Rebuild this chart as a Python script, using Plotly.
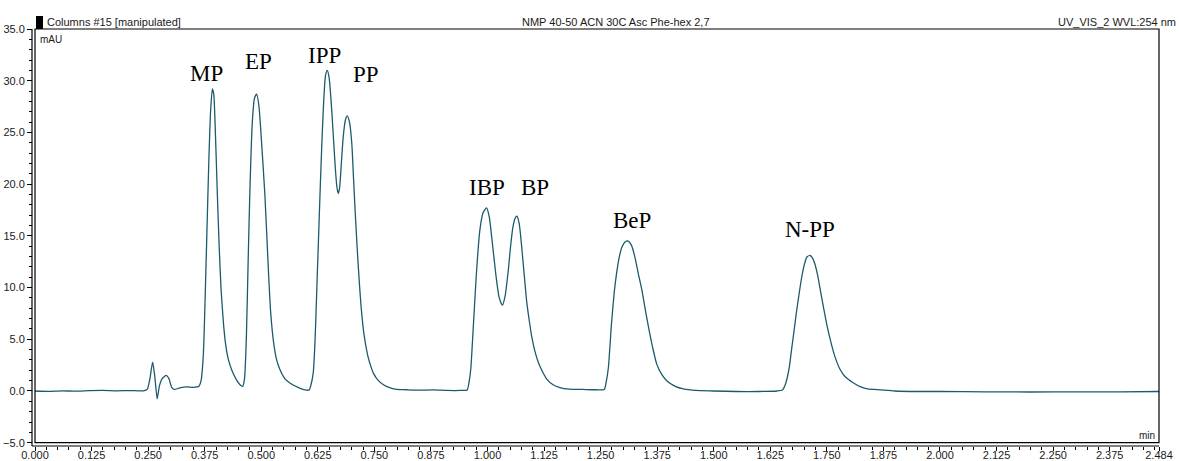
import plotly.graph_objects as go

# ---------------- data ----------------
time_min = [
    0.000, 0.030, 0.060, 0.090, 0.120, 0.150, 0.180, 0.210, 0.240,
    0.248, 0.254, 0.260, 0.265, 0.270, 0.275, 0.281, 0.290, 0.296, 0.302, 0.308,
    0.320, 0.335, 0.350, 0.362,
    0.367, 0.372, 0.376, 0.380, 0.384, 0.388, 0.392, 0.395, 0.399, 0.403, 0.407,
    0.411, 0.416, 0.421, 0.427, 0.435, 0.445, 0.453, 0.459,
    0.463, 0.467, 0.471, 0.475, 0.480, 0.485, 0.490, 0.495, 0.500, 0.508, 0.516,
    0.521, 0.527, 0.534, 0.541, 0.552, 0.564, 0.586, 0.600, 0.606,
    0.610, 0.615, 0.619, 0.6225, 0.626, 0.630, 0.634, 0.638, 0.642, 0.646, 0.650,
    0.656, 0.663, 0.667, 0.670, 0.673, 0.677, 0.681, 0.686, 0.690, 0.695, 0.700,
    0.704, 0.708, 0.712, 0.716, 0.721, 0.727, 0.735, 0.742, 0.748, 0.758, 0.770,
    0.785, 0.800,
    0.820, 0.850, 0.880, 0.910, 0.940, 0.955,
    0.959, 0.963, 0.969, 0.976, 0.983, 0.990, 0.998, 1.004, 1.009, 1.015, 1.020,
    1.026, 1.033, 1.039, 1.046, 1.051, 1.056, 1.061, 1.065, 1.070, 1.075, 1.081,
    1.087, 1.093, 1.098, 1.105, 1.112, 1.120, 1.131, 1.145, 1.160, 1.180, 1.210,
    1.240, 1.258,
    1.262, 1.267, 1.274, 1.280, 1.285, 1.291, 1.297, 1.304, 1.311, 1.318, 1.326,
    1.333, 1.341, 1.349, 1.357, 1.365, 1.374, 1.385, 1.396, 1.415, 1.433, 1.460,
    1.500, 1.550, 1.600, 1.640, 1.652,
    1.658, 1.663, 1.667, 1.672, 1.678, 1.683, 1.689, 1.694, 1.700, 1.706, 1.713,
    1.719, 1.724, 1.730, 1.735, 1.742, 1.750, 1.759, 1.768, 1.779, 1.790, 1.808,
    1.825, 1.840, 1.870, 1.900,
    1.950, 2.000, 2.100, 2.200, 2.300, 2.400, 2.484,
]
signal_mau = [
    0.00, -0.03, 0.02, -0.02, 0.03, 0.05, 0.02, 0.04, 0.02,
    0.15, 1.20, 2.80, 1.30, -0.75, 0.50, 1.20, 1.50, 1.20, 0.35, 0.15,
    0.30, 0.40, 0.35, 0.45,
    1.00, 3.50, 9.00, 15.5, 22.0, 27.0, 29.2, 28.7, 24.5, 19.0, 14.0,
    10.0, 6.80, 4.60, 3.10, 2.00, 1.10, 0.60, 0.45,
    1.20, 5.00, 12.5, 19.5, 25.8, 28.3, 28.7, 27.5, 24.5, 19.0, 11.5,
    7.50, 4.80, 3.00, 2.10, 1.20, 0.75, 0.26, 0.08, 0.10,
    0.60, 1.80, 5.00, 9.50, 14.0, 19.2, 24.0, 28.0, 30.5, 31.0, 30.3,
    27.0, 22.0, 19.8, 19.1, 19.6, 22.0, 24.5, 26.2, 26.6, 26.0, 24.0,
    20.5, 17.0, 13.8, 11.0, 8.00, 5.50, 3.50, 2.40, 1.70, 1.05, 0.60,
    0.30, 0.15,
    0.12, 0.08, 0.10, 0.05, 0.05, 0.10,
    0.80, 2.10, 6.50, 11.7, 15.5, 17.2, 17.7, 16.8, 15.0, 12.6, 10.7,
    9.00, 8.30, 9.20, 11.7, 14.0, 15.8, 16.7, 16.9, 16.2, 14.2, 11.3,
    8.50, 6.60, 5.20, 3.80, 2.80, 2.00, 1.15, 0.60, 0.33, 0.18, 0.15,
    0.12, 0.15,
    0.80, 2.20, 6.50, 9.50, 11.3, 12.9, 13.9, 14.4, 14.5, 14.1, 12.9,
    11.4, 9.80, 7.80, 5.90, 4.20, 2.60, 1.60, 1.00, 0.45, 0.20, 0.05,
    0.00, -0.05, -0.05, 0.00, 0.10,
    0.60, 1.40, 2.30, 4.00, 6.00, 7.70, 9.50, 10.9, 12.2, 12.95, 13.1,
    12.8, 12.2, 11.1, 9.90, 8.20, 6.40, 4.70, 3.30, 2.10, 1.40, 0.80,
    0.40, 0.20, 0.10, 0.00,
    -0.05, -0.05, -0.08, -0.10, -0.08, -0.08, -0.05,
]

peak_names = ["MP", "EP", "IPP", "PP", "IBP", "BP", "BeP", "N-PP"]
peak_label_time = [0.380, 0.495, 0.639, 0.731, 0.999, 1.104, 1.319, 1.713]
peak_label_mau = [30.7, 31.85, 32.4, 30.6, 19.7, 19.7, 16.5, 15.6]

x_tick_vals = [0.000, 0.125, 0.250, 0.375, 0.500, 0.625, 0.750, 0.875, 1.000,
               1.125, 1.250, 1.375, 1.500, 1.625, 1.750, 1.875, 2.000, 2.125,
               2.250, 2.375, 2.484]
x_tick_text = ["%.3f" % v for v in x_tick_vals]

header_left = "Columns #15 [manipulated]"
header_mid = "NMP 40-50 ACN 30C Asc Phe-hex 2,7"
header_right = "UV_VIS_2 WVL:254 nm"

# ---------------- layout geometry (pixels) ----------------
W, H = 1179, 461
PL, PR, PT, PB = 32, 1159, 29, 446        # paper box (axis lines)
FL, FB = 35, 442.7                         # frame left / bottom


def fx(px):
    return (px - PL) / (PR - PL)


def fy(py):
    return (PB - py) / (PB - PT)


SANS = "Liberation Sans, Arial, sans-serif"
SERIF = "Liberation Serif, Times New Roman, serif"
INK = "#1a1a1a"

fig = go.Figure()
fig.add_trace(go.Scatter(
    x=time_min, y=signal_mau, mode="lines",
    line=dict(color="#1d5a6c", width=1.3, shape="spline", smoothing=0.6),
    hoverinfo="x+y", showlegend=False,
))

annotations = []
for name, t, v in zip(peak_names, peak_label_time, peak_label_mau):
    annotations.append(dict(x=t, y=v, xref="x", yref="y", text=name,
                            showarrow=False, xanchor="center", yanchor="middle",
                            font=dict(family=SERIF, size=23, color="black")))

annotations += [
    dict(x=fx(45), y=fy(21.7), xref="paper", yref="paper", text=header_left,
         showarrow=False, xanchor="left", yanchor="middle",
         font=dict(family=SANS, size=11, color=INK)),
    dict(x=fx(616), y=fy(21.7), xref="paper", yref="paper", text=header_mid,
         showarrow=False, xanchor="center", yanchor="middle",
         font=dict(family=SANS, size=11, color=INK)),
    dict(x=fx(1178), y=fy(21.7), xref="paper", yref="paper", text=header_right,
         showarrow=False, xanchor="right", yanchor="middle",
         font=dict(family=SANS, size=11, color=INK)),
    dict(x=fx(38), y=fy(39.5), xref="paper", yref="paper", text="mAU",
         showarrow=False, xanchor="left", yanchor="middle",
         font=dict(family=SANS, size=10, color=INK)),
    dict(x=fx(1157), y=fy(435), xref="paper", yref="paper", text="min",
         showarrow=False, xanchor="right", yanchor="middle",
         font=dict(family=SANS, size=10, color=INK)),
]

shapes = [
    # plot frame
    dict(type="rect", xref="x domain", yref="y domain", x0=0, x1=1, y0=0, y1=1,
         line=dict(color="black", width=1.2)),
    # axis lines (offset from frame)
    dict(type="line", xref="paper", yref="paper", x0=0, x1=0, y0=0, y1=1,
         line=dict(color="black", width=1.2)),
    dict(type="line", xref="paper", yref="paper", x0=0, x1=1, y0=0, y1=0,
         line=dict(color="black", width=1.2)),
    # small black marker above frame
    dict(type="rect", xref="paper", yref="paper", x0=fx(36), x1=fx(43),
         y0=fy(29), y1=fy(16), line=dict(width=0), fillcolor="black"),
]

fig.update_layout(
    width=W, height=H,
    margin=dict(l=PL, r=W - PR, t=PT, b=H - PB, autoexpand=False),
    paper_bgcolor="white", plot_bgcolor="white",
    font=dict(family=SANS, size=11, color=INK),
    annotations=annotations, shapes=shapes,
    xaxis=dict(
        domain=[fx(FL), 1], range=[0, 2.484], anchor="free", position=0,
        tickmode="array", tickvals=x_tick_vals, ticktext=x_tick_text,
        ticks="outside", ticklen=4, tickwidth=1, tickcolor="black",
        ticklabelstandoff=-5,
        showline=False, showgrid=False, zeroline=False, automargin=False,
        tickfont=dict(family=SANS, size=11, color=INK),
        minor=dict(tickmode="linear", tick0=0, dtick=0.025, ticks="outside",
                   ticklen=3, tickwidth=1, tickcolor="black", showgrid=False),
    ),
    yaxis=dict(
        domain=[fy(FB), 1], range=[-5, 35], anchor="free", position=0,
        tickmode="linear", tick0=-5, dtick=5, tickformat=".1f",
        ticks="outside", ticklen=5, tickwidth=1, tickcolor="black",
        showline=False, showgrid=False, zeroline=False, automargin=False,
        tickfont=dict(family=SANS, size=11, color=INK),
        minor=dict(tickmode="linear", tick0=0, dtick=1, ticks="outside",
                   ticklen=3, tickwidth=1, tickcolor="black", showgrid=False),
    ),
)

fig.write_html("out.html")
